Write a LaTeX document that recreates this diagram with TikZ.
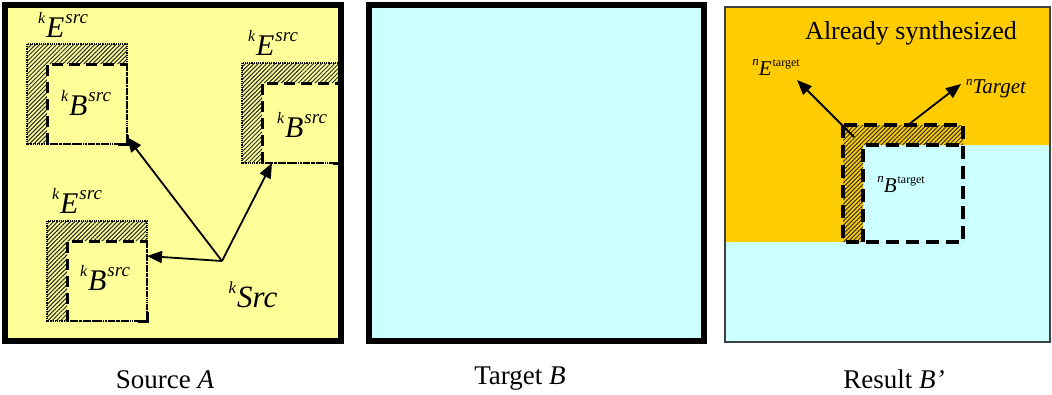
\documentclass[tikz,border=0pt]{standalone}
\usepackage{fontspec}
\setmainfont{Liberation Serif}
\usepackage{xcolor}
\usetikzlibrary{arrows.meta,patterns.meta,positioning}

\definecolor{srcyellow}{RGB}{255,255,153}
\definecolor{tgtcyan}{RGB}{204,255,255}
\definecolor{doneorange}{RGB}{255,204,0}

\newcommand{\fs}[1]{\fontsize{#1}{#1}\selectfont}
\newcommand{\up}[3]{\raisebox{#2pt}{\fs{#1}#3}}
\newcommand{\srclbl}[1]{\up{16}{14}{\itshape k}\kern1pt{\fs{30}\itshape #1}\kern1pt\up{19}{14}{\itshape src}}
\newcommand{\tgtlbl}[1]{\up{13}{10}{\itshape n}{\fs{21}\itshape #1}\kern1pt\up{12}{9}{target}}

\begin{document}
\begin{tikzpicture}[x=1pt,y=-1pt,
  every node/.style={inner sep=0pt,outer sep=0pt},
  panel/.style={line width=6pt},
  patch/.style={minimum width=100pt,minimum height=100pt},
  core/.style={minimum width=80pt,minimum height=80pt},
  hatch/.style={pattern={Lines[angle=45,distance=3pt,line width=1pt]},pattern color=black!85},
  bigdash/.style={line width=3pt,dash pattern=on 11pt off 6pt},
  thindash/.style={line width=1.1pt,dash pattern=on 6pt off 2.5pt on 1.5pt off 2.5pt},
  ptr/.style={line width=1.8pt,-{Triangle[length=15pt,width=12pt]}},
  caption/.style={font=\fs{27}}]
  \useasboundingbox (0,0) rectangle (1052,394);

  \fill[srcyellow] (5,5) rectangle (341,341);
  \foreach \n/\x/\y in {1/77/94, 2/292/113, 3/97/271} {
    \node[patch] (e\n) at (\x,\y) {};
    \node[core] (b\n) at (\x+10,\y+10) {};
    \fill[hatch,even odd rule] (e\n.north west) rectangle (e\n.south east)
      (b\n.north west) rectangle (b\n.south east);
    \draw[densely dotted,line width=1.2pt] (e\n.north west) rectangle (e\n.south east);
    \draw[thindash] (b\n.north east) -- (b\n.south east) -- (b\n.south west);
    \draw[bigdash] (b\n.south west) -- (b\n.north west) -- (b\n.north east);
    \draw[line width=3pt] ([yshift=9pt]b\n.south east) -- (b\n.south east) -- ([xshift=-9pt]b\n.south east);
  }
  \draw[panel] (5,5) rectangle (341,341);

  \node[anchor=base] (le1) at (63,37) {\srclbl{E}};
  \node[anchor=base] (lb1) at (86,115) {\srclbl{B}};
  \node[anchor=base] (le2) at (273,55) {\srclbl{E}};
  \node[anchor=base] (lb2) at (302,137) {\srclbl{B}};
  \node[anchor=base] (le3) at (77,213) {\srclbl{E}};
  \node[anchor=base] (lb3) at (105,290) {\srclbl{B}};

  \coordinate (ks) at (222,261);
  \node[anchor=base] (kslbl) at (253,307) {\up{17}{14}{\itshape k}\kern1pt{\fs{31}\itshape Src}};
  \draw[ptr] (ks) -- ([yshift=7pt]b1.south east);
  \draw[ptr] (ks) -- ([xshift=10pt]b2.south west);
  \draw[ptr] (ks) -- ([yshift=-15pt]b3.north east);

  \draw[panel,fill=tgtcyan] (369,5) rectangle (704,341);

  \node[minimum width=120pt,minimum height=117pt] (ne) at (903,183.5) {};
  \node[minimum width=100pt,minimum height=97pt] (nb) at (913,193.5) {};
  \fill[tgtcyan] (725,7) rectangle (1050,342);
  \fill[doneorange] (725,7) -- (1050,7) |- (nb.north west) -- (nb.south west) -| cycle;
  \fill[hatch,pattern color=black!80,even odd rule] (ne.north west) rectangle (ne.south east)
    (nb.north west) rectangle (nb.south east);
  \draw[line width=3.5pt,dash pattern=on 13pt off 7pt] (ne.north west) rectangle (ne.south east);
  \draw[line width=3.5pt,dash pattern=on 13pt off 7pt] (nb.south west) -- (nb.north west) -- (nb.north east);
  \draw[line width=1.5pt,black!75] (725,7) rectangle (1050,342);

  \node[anchor=base,font=\fs{26}] (done) at (911,39) {Already synthesized};
  \node[anchor=base] (nelbl) at (776,75) {\tgtlbl{E}};
  \node[anchor=base] (ntlbl) at (996,93) {\up{13}{8}{\itshape n}{\fs{21}\itshape Target}};
  \node[anchor=base] (nblbl) at (901,192) {\tgtlbl{B}};
  \coordinate (etip) at (797,80);
  \coordinate (ttip) at (961,84);
  \draw[ptr] ([xshift=-9pt,yshift=8pt]nb.north west) -- (etip);
  \draw[ptr] ([xshift=5pt]ne.north) -- (ttip);

  \node[caption,anchor=base] (capa) at (165,388) {Source \textit{A}};
  \node[caption,anchor=base] (capb) at (520,384) {Target \textit{B}};
  \node[caption,anchor=base] (capc) at (894,388) {Result \textit{B’}};
\end{tikzpicture}
\end{document}
